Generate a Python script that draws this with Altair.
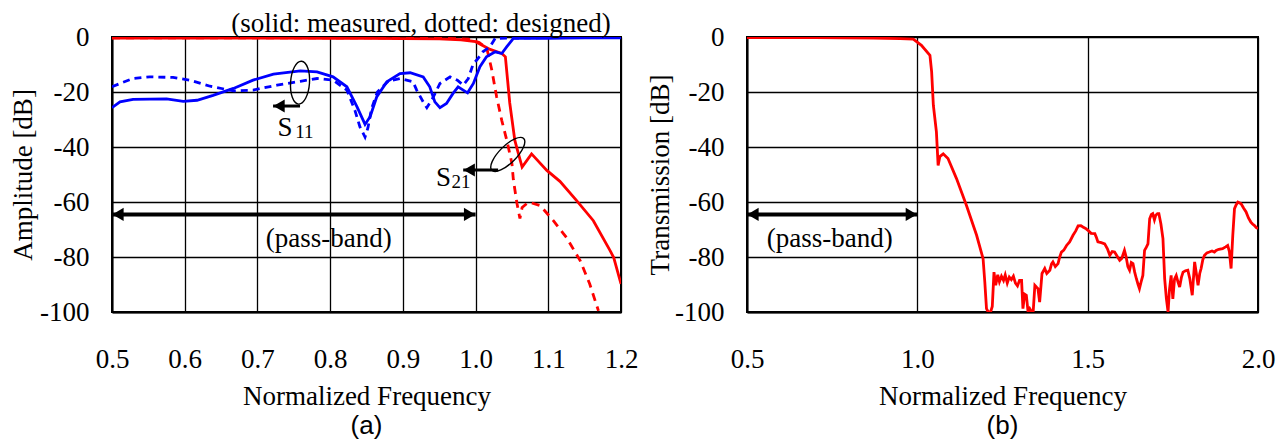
import altair as alt
import pandas as pd

SERIF = "Times New Roman"
SANS = "Arial"
RED = "#ff0000"
BLUE = "#0000ff"

# ---------------- panel (a) data ----------------
s21_meas_f = [0.5, 0.6, 0.7, 0.8, 0.85, 0.9, 0.95, 0.98, 1.0, 1.02, 1.036, 1.041, 1.047,
              1.054, 1.059, 1.064, 1.077, 1.098, 1.116, 1.139, 1.162, 1.185, 1.19, 1.2]
s21_meas_db = [-0.4, -0.4, -0.4, -0.5, -0.5, -0.6, -0.7, -1.0, -1.7, -4.5, -6.0, -7.2, -24.0,
               -37.6, -42.5, -47.3, -42.5, -48.5, -52.5, -59.5, -66.8, -77.7, -80.2, -89.8]

s21_des_f = [0.5, 0.8, 0.95, 0.99, 1.005, 1.0154, 1.0223, 1.029, 1.036, 1.043, 1.05, 1.052,
             1.057, 1.061, 1.064, 1.073, 1.089, 1.107, 1.125, 1.144, 1.157, 1.169]
s21_des_db = [-0.3, -0.3, -0.4, -0.8, -2.0, -4.0, -12.0, -21.8, -30.3, -37.6, -46.0, -52.0,
              -60.6, -66.0, -62.0, -60.0, -61.3, -66.8, -72.9, -81.4, -89.8, -99.6]

s11_meas_f = [0.5, 0.511, 0.529, 0.575, 0.598, 0.617, 0.639, 0.667, 0.694, 0.722, 0.759,
              0.782, 0.804, 0.823, 0.837, 0.848, 0.855, 0.864, 0.878, 0.896, 0.91, 0.928,
              0.937, 0.944, 0.951, 0.960, 0.969, 0.976, 0.983, 0.989, 0.997, 1.006, 1.015,
              1.027, 1.036, 1.043, 1.052, 1.098, 1.15, 1.2]
s11_meas_db = [-25.7, -23.6, -22.7, -22.5, -23.4, -23.0, -21.2, -18.7, -15.7, -13.5, -12.3,
               -12.7, -14.5, -18.1, -25.4, -31.8, -29.0, -21.8, -16.3, -13.3, -13.0, -14.5,
               -18.1, -23.6, -25.7, -24.2, -20.5, -18.1, -19.3, -20.3, -16.9, -10.8, -7.2,
               -5.4, -6.0, -3.5, -0.5, -0.5, -0.3, -0.3]

s11_des_f = [0.5, 0.511, 0.529, 0.552, 0.584, 0.607, 0.635, 0.667, 0.694, 0.727, 0.759,
             0.782, 0.804, 0.823, 0.834, 0.841, 0.848, 0.852, 0.857, 0.865, 0.88, 0.896,
             0.914, 0.919, 0.928, 0.933, 0.942, 0.951, 0.965, 0.975, 0.983, 0.99, 0.997,
             1.0017, 1.01, 1.02, 1.027, 1.1, 1.2]
s11_des_db = [-18.1, -16.9, -15.1, -14.5, -14.7, -15.7, -17.9, -19.6, -19.3, -17.5, -16.1,
              -15.1, -15.7, -19.3, -26.6, -32.7, -36.4, -33.0, -26.0, -20.0, -16.0, -15.1,
              -16.3, -19.3, -23.6, -25.7, -21.8, -16.9, -14.5, -15.7, -17.5, -15.1, -9.6,
              -8.4, -5.4, -3.5, -0.5, -0.2, -0.2]

# ---------------- panel (b) data ----------------
t_f = [0.5, 0.7, 0.871, 0.95, 0.988, 1.012, 1.037, 1.042, 1.047, 1.056, 1.061, 1.066, 1.076,
       1.090, 1.115, 1.144, 1.174, 1.193, 1.198, 1.203, 1.208, 1.215, 1.220, 1.225, 1.230,
       1.236, 1.241, 1.247, 1.253, 1.258, 1.264, 1.270, 1.276, 1.282, 1.288, 1.294, 1.300,
       1.306, 1.310, 1.315, 1.320, 1.325, 1.330, 1.336, 1.340, 1.345, 1.350, 1.354, 1.359,
       1.366, 1.374, 1.380, 1.389, 1.394, 1.398, 1.405, 1.413, 1.418, 1.423, 1.430, 1.438,
       1.447, 1.457, 1.465, 1.472, 1.480, 1.486, 1.494, 1.501, 1.510, 1.521, 1.526, 1.530,
       1.540, 1.550, 1.558, 1.565, 1.572, 1.579, 1.587, 1.594, 1.600, 1.608, 1.613, 1.618,
       1.623, 1.628, 1.633, 1.638, 1.643, 1.648, 1.652, 1.657, 1.662, 1.667, 1.672, 1.677,
       1.682, 1.687, 1.691, 1.696, 1.700, 1.705, 1.709, 1.715, 1.721, 1.726, 1.731, 1.736,
       1.740, 1.745, 1.750, 1.755, 1.760, 1.765, 1.770, 1.775, 1.780, 1.787, 1.794, 1.800,
       1.807, 1.814, 1.819, 1.824, 1.829, 1.833, 1.838, 1.843, 1.850, 1.857, 1.865, 1.872,
       1.877, 1.885, 1.896, 1.905, 1.911, 1.916, 1.921, 1.926, 1.931, 1.936, 1.941, 1.950,
       1.958, 1.965, 1.972, 1.979, 1.984, 1.989, 1.995, 2.0]
t_db = [-0.2, -0.2, -0.4, -0.6, -0.8, -3.0, -6.7, -12.7, -24.8, -34.5, -46.7, -43.5, -42.5,
        -44.2, -51.5, -61.2, -72.1, -80.6, -89.0, -98.8, -100.0, -100.0, -98.0, -85.5, -90.3,
        -86.5, -89.0, -87.0, -88.5, -86.5, -89.5, -87.3, -88.2, -87.0, -89.5, -90.5, -88.5,
        -88.5, -98.8, -93.5, -93.9, -100.0, -98.8, -100.0, -100.0, -90.3, -91.0, -91.5, -96.4,
        -86.0, -84.2, -86.0, -84.8, -82.5, -81.8, -83.5, -82.4, -80.0, -78.2, -77.5, -75.8,
        -74.5, -72.1, -70.5, -68.7, -68.6, -69.1, -69.6, -70.3, -71.4, -71.5, -73.0, -74.5,
        -74.8, -75.2, -77.0, -79.4, -78.0, -78.2, -79.8, -81.2, -80.5, -77.6, -80.0, -83.5,
        -84.8, -82.0, -82.4, -85.5, -87.9, -90.0, -91.5, -89.0, -86.7, -77.6, -76.5, -75.2,
        -66.1, -64.5, -64.2, -66.5, -64.8, -64.2, -64.2, -68.0, -73.3, -87.9, -95.0, -100.0,
        -92.0, -86.7, -95.2, -88.0, -86.7, -89.0, -90.9, -87.5, -85.5, -85.0, -84.8, -88.0,
        -93.9, -81.8, -86.0, -90.3, -86.0, -84.2, -81.0, -79.4, -78.5, -78.2, -77.8, -78.2,
        -77.6, -77.2, -77.0, -76.3, -75.8, -78.0, -84.2, -72.1, -62.4, -61.0, -60.0, -60.6,
        -62.3, -63.6, -65.8, -67.3, -68.0, -68.5, -69.3, -69.7]

# ---------------- axes ----------------
x_ticks_a = [0.5, 0.6, 0.7, 0.8, 0.9, 1.0, 1.1, 1.2]
x_ticks_b = [0.5, 1.0, 1.5, 2.0]
y_ticks = [0, -20, -40, -60, -80, -100]

W_A, W_B, H = 509, 511, 275

ELLIPSE_A = "M 0,-1 A 0.44,1 0 1,1 0,1 A 0.44,1 0 1,1 0,-1 Z"
ELLIPSE_B = "M 0,-1 A 0.38,1 0 1,1 0,1 A 0.38,1 0 1,1 0,-1 Z"


def frame(f, db):
    return pd.DataFrame({"f": f, "db": db})


def xe(domain, ticks):
    return alt.X("f:Q", scale=alt.Scale(domain=domain, nice=False, zero=False),
                 axis=alt.Axis(values=ticks, format=".1f", title="Normalized Frequency"))


def ye(yt):
    title, tpad = yt
    return alt.Y("db:Q", scale=alt.Scale(domain=[-100, 0], nice=False, zero=False),
                 axis=alt.Axis(values=y_ticks, labelExpr="'' + datum.value", title=title,
                               titlePadding=tpad))


def line(df, color, xd, yt, dash=None):
    kw = dict(color=color, strokeWidth=2.8, clip=True)
    if dash:
        kw["strokeDash"] = dash
    return alt.Chart(df).mark_line(**kw).encode(x=xd(), y=ye(yt))


def text(f, db, t, xd, yt, size=27, align="center", baseline="alphabetic", font=SERIF):
    df = pd.DataFrame({"f": f, "db": db, "t": t})
    return alt.Chart(df).mark_text(font=font, fontSize=size, align=align, baseline=baseline,
                                   color="black").encode(x=xd(), y=ye(yt), text="t:N")


def arrow(f1, f2, db, xd, yt, width, both=False):
    df = pd.DataFrame({"f": [f1], "f2": [f2], "db": [db]})
    r = alt.Chart(df).mark_rule(color="black", strokeWidth=width).encode(
        x=xd(), x2="f2:Q", y=ye(yt))
    hl = alt.Chart(pd.DataFrame({"f": [f2], "db": [db]})).mark_point(
        shape="triangle-left", filled=True, color="black", opacity=1, size=170,
        xOffset=6).encode(x=xd(), y=ye(yt))
    layers = [r, hl]
    if both:
        hr = alt.Chart(pd.DataFrame({"f": [f1], "db": [db]})).mark_point(
            shape="triangle-right", filled=True, color="black", opacity=1, size=170,
            xOffset=-6).encode(x=xd(), y=ye(yt))
        layers.append(hr)
    return layers


def ellipse(f, db, shape, size, angle, xd, yt):
    return alt.Chart(pd.DataFrame({"f": [f], "db": [db]})).mark_point(
        shape=shape, filled=False, stroke="black", strokeWidth=1.4, opacity=1,
        size=size, angle=angle).encode(x=xd(), y=ye(yt))


# ---------------- panel (a) ----------------
XA = lambda: xe([0.5, 1.2], x_ticks_a)
YA = ("Amplitude [dB]", 2)

left_layers = [
    line(frame(s21_des_f, s21_des_db), RED, XA, YA, dash=[8, 6]),
    line(frame(s21_meas_f, s21_meas_db), RED, XA, YA),
    line(frame(s11_des_f, s11_des_db), BLUE, XA, YA, dash=[7, 5]),
    line(frame(s11_meas_f, s11_meas_db), BLUE, XA, YA),
    *arrow(1.0, 0.5, -64.5, XA, YA, 4, both=True),
    text([0.798], [-73.5], ["(pass-band)"], XA, YA, baseline="middle"),
    text([0.925], [2.0], ["(solid: measured, dotted: designed)"], XA, YA),
    ellipse(0.7586, -16.6, ELLIPSE_A, 1849, 4, XA, YA),
    *arrow(0.7586, 0.7215, -25.1, XA, YA, 3),
    text([0.738], [-36.0], ["S"], XA, YA),
    text([0.752], [-36.6], ["11"], XA, YA, size=19, align="left"),
    ellipse(1.0443, -42.7, ELLIPSE_B, 2025, 45, XA, YA),
    *arrow(1.031, 0.983, -48.4, XA, YA, 3),
    text([0.956], [-54.2], ["S"], XA, YA),
    text([0.967], [-54.8], ["21"], XA, YA, size=19, align="left"),
]
left = alt.layer(*left_layers).properties(
    width=W_A, height=H,
    title=alt.TitleParams("(a)", orient="bottom", font=SANS, fontSize=26,
                          fontWeight="normal", color="black", frame="group",
                          anchor="middle", offset=4))

# ---------------- panel (b) ----------------
XB = lambda: xe([0.5, 2.0], x_ticks_b)
YB = ("Transmission [dB]", 0)

right_layers = [
    line(frame(t_f, t_db), RED, XB, YB),
    *arrow(1.0, 0.5, -64.5, XB, YB, 4, both=True),
    text([0.743], [-73.5], ["(pass-band)"], XB, YB, baseline="middle"),
]
right = alt.layer(*right_layers).properties(
    width=W_B, height=H,
    title=alt.TitleParams("(b)", orient="bottom", font=SANS, fontSize=26,
                          fontWeight="normal", color="black", frame="group",
                          anchor="middle", offset=4))

chart = alt.hconcat(left, right, spacing=126, bounds="flush").properties(
    padding={"left": 0, "top": 0, "right": 0, "bottom": 0}
).configure_view(
    stroke="black", strokeWidth=2
).configure_axis(
    labelFont=SERIF, labelFontSize=27, labelColor="black",
    titleFont=SERIF, titleFontSize=27, titleFontWeight="normal", titleColor="black",
    gridColor="black", gridOpacity=1, gridWidth=1.3,
    domainColor="black", domainWidth=2,
    ticks=False, tickSize=0, labelFlush=False, labelOverlap=False
).configure_axisX(
    labelPadding=34, titlePadding=11
).configure_axisY(
    labelPadding=23
)

chart.save("out.html", embed_options={"renderer": "svg", "actions": False})
